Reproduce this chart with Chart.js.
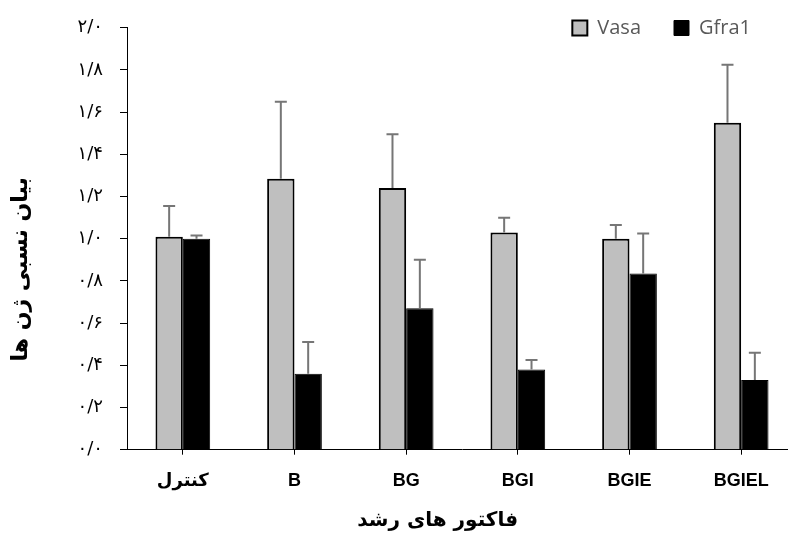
<!DOCTYPE html>
<html>
<head>
<meta charset="utf-8">
<script src="https://cdn.jsdelivr.net/npm/chart.js@4.4.0/dist/chart.umd.min.js"></script>
<style>
  html, body { margin: 0; padding: 0; background: #fff; overflow: hidden; }
  #frame { width: 788px; height: 536px; overflow: hidden; }
  #wrap { width: 797px; height: 536px; }
</style>
</head>
<body>
<div id="frame"><div id="wrap"><canvas id="myChart"></canvas></div></div>
<script>
const categories = ['کنترل', 'B', 'BG', 'BGI', 'BGIE', 'BGIEL'];
const vasaValues = [1.01, 1.285, 1.24, 1.03, 1.00, 1.55];
const vasaErrors = [0.145, 0.365, 0.255, 0.07, 0.065, 0.275];
const gfraValues = [1.00, 0.36, 0.67, 0.38, 0.835, 0.33];
const gfraErrors = [0.015, 0.15, 0.23, 0.045, 0.19, 0.13];
const yTickLabels = ['۰/۰', '۰/۲', '۰/۴', '۰/۶', '۰/۸', '۱/۰', '۱/۲', '۱/۴', '۱/۶', '۱/۸', '۲/۰'];
const errorSets = [vasaErrors, gfraErrors];

// error bars, upward only, drawn from the bar tops through the y scale
const errorBars = {
  id: 'errorBars',
  afterDatasetsDraw(chart) {
    const ctx = chart.ctx;
    const yScale = chart.scales.y;
    chart.data.datasets.forEach((ds, di) => {
      const meta = chart.getDatasetMeta(di);
      meta.data.forEach((bar, i) => {
        const top = yScale.getPixelForValue(ds.data[i] + errorSets[di][i]);
        ctx.save();
        ctx.strokeStyle = '#767676';
        ctx.lineWidth = 2;
        ctx.beginPath();
        ctx.moveTo(bar.x, bar.y);
        ctx.lineTo(bar.x, top);
        ctx.moveTo(bar.x - 6, top);
        ctx.lineTo(bar.x + 6, top);
        ctx.stroke();
        ctx.restore();
      });
    });
  }
};

// legend keeps ~no room in the layout, then gets moved into the top right corner
const legendSpot = {
  id: 'legendSpot',
  afterLayout(chart) {
    const lg = chart.legend;
    lg.right = 784;
    lg.left = lg.right - lg.width;
    lg.top = -15;
    lg.bottom = lg.top + 90;
  }
};

const myChart = new Chart(document.getElementById('myChart'), {
  type: 'bar',
  data: {
    labels: categories,
    datasets: [{
      label: 'Vasa',
      data: vasaValues,
      backgroundColor: '#bfbfbf',
      borderColor: '#000000',
      borderWidth: 2,
      categoryPercentage: 0.49,
      barPercentage: 1
    }, {
      label: 'Gfra1',
      data: gfraValues,
      backgroundColor: '#000000',
      borderColor: '#000000',
      borderWidth: 1,
      categoryPercentage: 0.49,
      barPercentage: 1
    }]
  },
  options: {
    responsive: true,
    maintainAspectRatio: false,
    animation: false,
    layout: { padding: { left: 7, right: 0, top: 24.7, bottom: 0 } },
    plugins: {
      tooltip: { enabled: false },
      legend: {
        position: 'top',
        align: 'end',
        maxHeight: 1,
        labels: {
          boxWidth: 15,
          boxHeight: 15,
          padding: 33,
          color: '#595959',
          font: { family: "'Open Sans', 'Liberation Sans', sans-serif", size: 20 }
        }
      }
    },
    scales: {
      x: {
        afterFit(scale) { scale.height = 86.3; },
        border: { color: '#000000', width: 1 },
        grid: { offset: false, drawOnChartArea: false, drawTicks: true, tickLength: 5, color: '#000000' },
        ticks: {
          color: '#000000',
          padding: 16,
          font: { family: "'Liberation Sans', 'DejaVu Sans', sans-serif", size: 18, weight: 'bold' }
        },
        title: {
          display: true,
          text: 'فاکتور های رشد       ',
          color: '#000000',
          padding: { top: 0, bottom: 3 },
          font: { family: "'DejaVu Sans', sans-serif", size: 20, weight: 'bold' }
        }
      },
      y: {
        min: 0,
        max: 2,
        afterFit(scale) { scale.width = 120; },
        border: { color: '#000000', width: 1 },
        grid: { drawOnChartArea: false, drawTicks: true, tickLength: 7, color: '#000000' },
        ticks: {
          stepSize: 0.2,
          color: '#000000',
          padding: 17,
          font: { family: "'DejaVu Sans', sans-serif", size: 18 },
          callback: (v, i) => yTickLabels[i]
        },
        title: {
          display: true,
          text: 'بیان نسبی ژن ها        ',
          color: '#000000',
          padding: { top: 1, bottom: 0 },
          font: { family: "'DejaVu Sans', sans-serif", size: 22, weight: 'bold' }
        }
      }
    }
  },
  plugins: [errorBars, legendSpot]
});
</script>
</body>
</html>
